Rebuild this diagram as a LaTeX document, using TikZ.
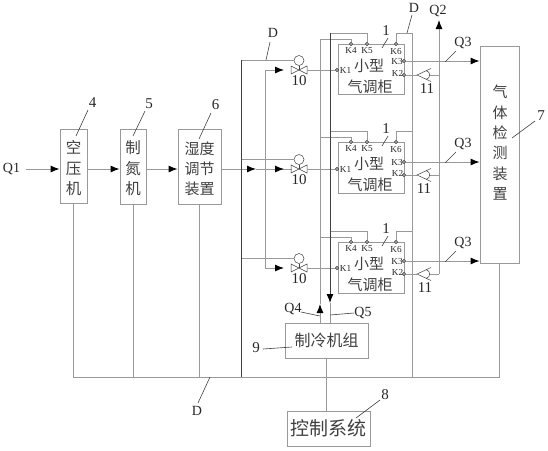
\documentclass[tikz,border=0pt]{standalone}
\usepackage{fontspec}
\setmainfont{Liberation Serif}
\newfontfamily\cjk{Noto Sans CJK SC}
\usetikzlibrary{arrows.meta}
\definecolor{pipegray}{gray}{0.6}
\definecolor{inkgray}{gray}{0.25}
\tikzset{
    pipe/.style={draw=pipegray, line width=0.9pt},
    darkpipe/.style={draw=inkgray, line width=1pt},
    flow/.style={pipe, -{Latex[length=9pt,width=7pt,color=black]}},
    leader/.style={draw=inkgray, line width=0.6pt},
    unitbox/.style={draw=pipegray, line width=0.9pt, inner sep=0pt, align=center, text=inkgray},
    stack/.style={inner sep=0pt, align=center, text=inkgray},
    port/.style={circle, draw=inkgray, fill=pipegray, line width=0.4pt, minimum size=3.6pt, inner sep=0pt},
    num/.style={inner sep=0pt, text=black!85, font=\fontsize{15}{15}\selectfont},
    letter/.style={inner sep=0pt, text=black!85, font=\fontsize{14}{14}\selectfont},
    klabel/.style={inner sep=0pt, text=black!85, font=\fontsize{9.2}{10}\selectfont},
}
\begin{document}
\begin{tikzpicture}[x=1pt, y=-1pt]
    \useasboundingbox (0,0) rectangle (548,450);

    % Blocs principaux
    \node[unitbox, minimum width=27pt, minimum height=74pt] (comp) at (73.5,166) {};
    \node[stack, font=\cjk\fontsize{15.5}{20.5}\selectfont] (comptxt) at (73.5,168.5) {空\\压\\机};
    \node[unitbox, minimum width=26pt, minimum height=75pt] (nitro) at (133,166.5) {};
    \node[stack, font=\cjk\fontsize{15.5}{20.5}\selectfont] (nitrotxt) at (133,168.5) {制\\氮\\机};
    \node[unitbox, minimum width=43pt, minimum height=75pt] (humid) at (199.5,166.5) {};
    \node[stack, font=\cjk\fontsize{15}{20}\selectfont] (humidtxt) at (199.5,168.5) {湿度\\调节\\装置};
    \node[unitbox, minimum width=39pt, minimum height=217pt] (gas) at (499.5,154.5) {};
    \foreach \i/\ch in {0/气,1/体,2/检,3/测,4/装,5/置}{
        \node[inner sep=0pt, text=inkgray, font=\cjk\fontsize{15}{15}\selectfont] (gastxt\i) at (500,92+20.4*\i) {\ch};
    }
    \node[unitbox, minimum width=83pt, minimum height=35pt, font=\cjk\fontsize{16}{18}\selectfont] (chiller) at (326.5,340.5) {制冷机组};
    \node[unitbox, minimum width=83pt, minimum height=35pt, font=\cjk\fontsize{19}{20}\selectfont] (ctrl) at (328.5,428.5) {控制系统};

    % Points des conduites
    \coordinate (q1in) at (26,169);
    \coordinate (dtop) at (241,60);
    \coordinate (mixtop) at (265,70);
    \coordinate (mixbot) at (265,268);
    \coordinate (q4top) at (320,39);
    \coordinate (q5top) at (330,33);
    \coordinate (q4tip) at (320,304);
    \coordinate (q5tip) at (330,303);
    \coordinate (dright) at (412,33);
    \coordinate (q2tip) at (439,20);
    \coordinate (q2bot) at (439,274);
    \coordinate (busl) at (73.5,377);
    \coordinate (busr) at (499.5,377);

    % Ligne principale
    \draw[flow] (q1in) -- (comp.west |- q1in);
    \draw[flow] (comp.east |- q1in) -- (nitro.west |- q1in);
    \draw[flow] (nitro.east |- q1in) -- (humid.west |- q1in);
    \draw[flow] (humid.east |- q1in) -- (256,169);
    \draw[pipe] (256,169) -- (292,169);
    \draw[pipe] (mixtop) -- (mixbot);

    % Armoires
    \foreach \row/\ya/\yb/\yc/\yd/\ye/\xa in {1/44/61/70/75/94/427, 2/142/162/169/175/193/424, 3/242/261/268/274/293/425}{
        \node[unitbox, minimum width=66pt, minimum height=\ye pt-\ya pt] (cab\row) at (371,{(\ya+\ye)/2}) {};
        \node[inner sep=0pt, text=inkgray, font=\cjk\fontsize{15}{15}\selectfont] (small\row) at (369,\ya+22) {小型};
        \node[inner sep=0pt, text=inkgray, font=\cjk\fontsize{15}{15}\selectfont] (air\row) at (370,\ya+42.5) {气调柜};
        % Orifices
        \node[port] (kd\row) at (351,\ya) {};
        \node[port] (ke\row) at (367,\ya) {};
        \node[port] (kf\row) at (396,\ya) {};
        \node[port] (kc\row) at (404,\yb) {};
        \node[port] (kb\row) at (404,\yd) {};
        \node[port] (ka\row) at (337,\yc) {};
        \node[klabel] (lkd\row) at (351,\ya+6.5) {K4};
        \node[klabel] (lke\row) at (367,\ya+6.5) {K5};
        \node[klabel] (lkf\row) at (396,\ya+7) {K6};
        \node[klabel] (lkc\row) at (397,\yb) {K3};
        \node[klabel] (lkb\row) at (397.5,\yd-2) {K2};
        \node[klabel] (lka\row) at (345.5,\yc) {K1};
        % Vanne
        \coordinate (vlv\row) at (299,\yc);
        \node[circle, draw=inkgray, line width=0.5pt, minimum size=10pt, inner sep=0pt] (gauge\row) at (299,\yc-9.5) {};
        \draw[draw=inkgray, line width=0.5pt] (291,\yc-4) -- (307,\yc+4) -- (307,\yc-4) -- (291,\yc+4) -- cycle;
        \draw[draw=inkgray, line width=0.5pt] (gauge\row) -- (vlv\row);
        \draw[pipe] (307,\yc) -- (ka\row);
        \draw[pipe] (241,\yc-9.5) -- (gauge\row);
        \draw[flow] (265,\yc) -- (284,\yc);
        % Liaisons haut
        \draw[pipe] (320,\ya-5) -| (kd\row);
        \draw[pipe] (330,\ya-11) -| (ke\row);
        \draw[pipe] (412,\ya-11) -| (kf\row);
        % Sorties
        \draw[flow] (kc\row) -- (gas.west |- kc\row);
        \draw[pipe] (kb\row) -- (417,\yd);
        \draw[pipe] (430,\yd) -- (439,\yd);
        % Clapet
        \draw[draw=inkgray, line width=0.5pt] (431,\yd-6.5) -- (417,\yd) -- (431,\yd+6.5);
        \draw[draw=inkgray, line width=0.5pt] (426,\yd-4.5) .. controls (431,\yd-3) and (431,\yd+3) .. (426,\yd+4.5);
        \node[num] (chk\row) at (\xa,\yd+14) {11};
        \node[num] (vnum\row) at (299,\yc+11) {10};
        % Reperes
        \node[num] (cabnum\row) at (386,\ya-13) {1};
        \draw[leader] (388,\ya-6) -- (382,\ya+4);
        \node[letter] (qc\row) at (463,\yb-18) {Q3};
        \draw[leader] (456,\yb-10) -- (445,\yb+1);
    }

    % Conduites verticales
    \draw[darkpipe] (dtop) -- (dtop |- busl);
    \draw[pipe] (dright) -- (dright |- busl);
    \draw[pipe] (q4top) -- (q4tip);
    \draw[pipe, {Latex[length=9pt,width=7pt,color=black]}-] (q4tip) -- (q4tip |- chiller.north);
    \draw[darkpipe, -{Latex[length=9pt,width=7pt,color=black]}] (q5top) -- (q5tip);
    \draw[pipe] (q5tip) -- (q5tip |- chiller.north);
    \draw[pipe, -{Latex[length=9pt,width=7pt,color=black]}] (q2bot) -- (q2tip);

    % Bus de commande
    \draw[pipe] (comp.south) -- (busl) -- (busr) -- (gas.south);
    \draw[pipe] (nitro.south) -- (nitro.south |- busl);
    \draw[pipe] (humid.south) -- (humid.south |- busl);
    \draw[pipe] (chiller.south) -- (ctrl.north -| chiller.south);

    % Textes et reperes
    \node[letter] (q1) at (11.5,168.5) {Q1};
    \node[letter] (q2) at (438,11) {Q2};
    \node[letter] (q4) at (293,309) {Q4};
    \node[letter] (q5) at (363,313) {Q5};
    \draw[leader] (q4) ++(8,3) -- (320,316);
    \draw[leader] (q5) ++(-9,0) -- (330,315);

    \node[num] (n4) at (92.5,103) {4};
    \draw[leader] (88,110) -- (76,136);
    \node[num] (n5) at (149,104) {5};
    \draw[leader] (145,111) -- (133,136);
    \node[num] (n6) at (215.5,105) {6};
    \draw[leader] (211,113) -- (199,139);
    \node[num] (n7) at (541,116) {7};
    \draw[leader] (535,121) -- (512,138);
    \node[num] (n8) at (385,395) {8};
    \draw[leader] (380,400) -- (356,418);
    \node[num] (n9) at (256,348) {9};
    \draw[leader] (263,349) -- (292,347);

    \node[letter] (dl) at (273,33) {D};
    \draw[leader] (270,42) -- (266,60);
    \node[letter] (dt) at (414,8) {D};
    \draw[leader] (412,15) -- (407,33);
    \node[letter] (db) at (197,411) {D};
    \draw[leader] (210,377) -- (198,403);
\end{tikzpicture}
\end{document}
